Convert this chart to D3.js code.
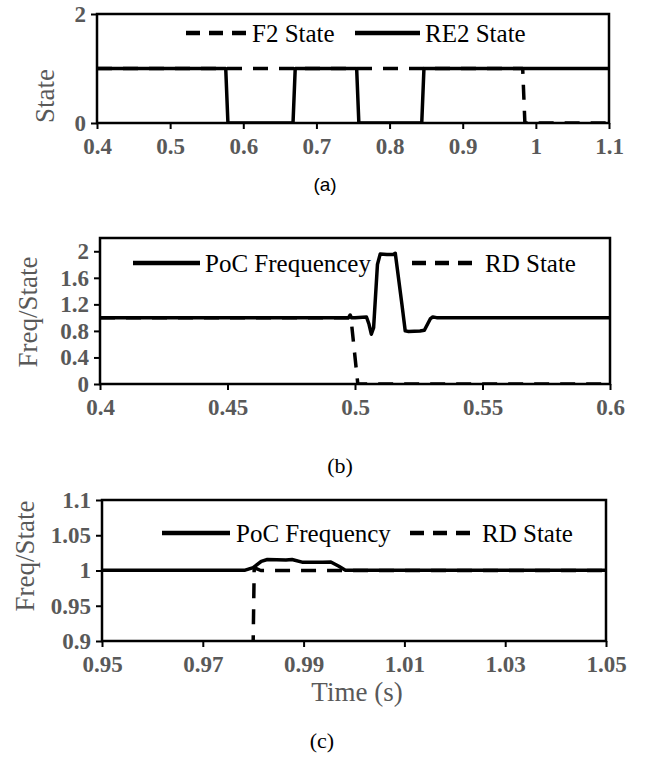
<!DOCTYPE html>
<html>
<head>
<meta charset="utf-8">
<script src="https://cdn.jsdelivr.net/npm/d3@7"></script>
<style>
  body { margin: 0; background: #fff; }
  svg { display: block; }
</style>
</head>
<body>
<div id="chart"></div>
<script>
// Panel (a): F2 / RE2 state
const aXTicks = [0.4, 0.5, 0.6, 0.7, 0.8, 0.9, 1, 1.1];
const aYTicks = [0, 2];
const f2State = [[0.4, 1], [0.982, 1], [0.985, 0], [1.1, 0]];
const re2State = [
    [0.4, 1], [0.576, 1], [0.579, 0], [0.668, 0], [0.671, 1],
    [0.755, 1], [0.758, 0], [0.844, 0], [0.847, 1], [1.1, 1]
];

// Panel (b): PoC frequency / RD state, wide window
const bXTicks = [0.4, 0.45, 0.5, 0.55, 0.6];
const bYTicks = [0, 0.4, 0.8, 1.2, 1.6, 2];
const pocFreqB = [
    [0.4, 1], [0.4975, 1], [0.4981, 1.04], [0.4986, 1.0], [0.5, 1.0],
    [0.5045, 1.01], [0.5055, 0.9], [0.5064, 0.75], [0.5073, 0.85],
    [0.5088, 1.8], [0.5099, 1.96], [0.5125, 1.95], [0.515, 1.95], [0.5158, 1.97],
    [0.5184, 1.2], [0.5197, 0.8], [0.521, 0.79], [0.5255, 0.8], [0.5272, 0.81],
    [0.5295, 0.98], [0.5305, 1.01], [0.532, 1.0], [0.6, 1.0]
];
const rdStateB = [[0.4, 1], [0.4984, 1], [0.5011, 0], [0.6, 0]];

// Panel (c): zoom on the second event
const cXTicks = [0.95, 0.97, 0.99, 1.01, 1.03, 1.05];
const cYTicks = [0.9, 0.95, 1, 1.05, 1.1];
const pocFreqC = [
    [0.95, 1.0005], [0.9784, 1.0005], [0.98, 1.004], [0.9816, 1.013],
    [0.9828, 1.0156], [0.9865, 1.015], [0.9877, 1.0156], [0.9897, 1.0118],
    [0.9938, 1.0118], [0.9954, 1.012], [0.997, 1.006], [0.9983, 1.0005], [1.05, 1.0005]
];
const rdStateC = [[0.9799, 0.85], [0.9802, 1.004], [0.9815, 1.0], [1.05, 1.0]];

const width = 650, height = 762;
const serif = '"Liberation Serif", "Times New Roman", serif';
const gray = '#595959';

const svg = d3.select('#chart').append('svg')
    .attr('width', width)
    .attr('height', height);

svg.append('rect').attr('width', width).attr('height', height).attr('fill', '#fff');

const panels = [
    {
        id: 'a', box: [97, 609, 14, 123], xDomain: [0.4, 1.1], yDomain: [0, 2],
        xTicks: aXTicks, yTicks: aYTicks, yTitle: 'State', yTitlePos: [45, 96],
        series: [
            { data: f2State, dashed: true, name: 'F2 State' },
            { data: re2State, dashed: false, name: 'RE2 State' }
        ],
        legend: { y: 33, items: [[186, 248, 252], [355, 420, 425]] },
        caption: { text: '(a)', x: 325, y: 184, font: '"Liberation Sans", Arial, sans-serif', size: 19 }
    },
    {
        id: 'b', box: [100, 610, 238, 384], xDomain: [0.4, 0.6], yDomain: [0, 2.2],
        xTicks: bXTicks, yTicks: bYTicks, yTitle: 'Freq/State', yTitlePos: [28, 312],
        series: [
            { data: pocFreqB, dashed: false, name: 'PoC Frequencey' },
            { data: rdStateB, dashed: true, name: 'RD State' }
        ],
        legend: { y: 263, items: [[133, 200, 205], [412, 480, 485]] },
        caption: { text: '(b)', x: 340, y: 465, font: serif, size: 22 }
    },
    {
        id: 'c', box: [102, 606, 500, 641], xDomain: [0.95, 1.05], yDomain: [0.9, 1.1],
        xTicks: cXTicks, yTicks: cYTicks, yTitle: 'Freq/State', yTitlePos: [25, 556],
        series: [
            { data: pocFreqC, dashed: false, name: 'PoC Frequency' },
            { data: rdStateC, dashed: true, name: 'RD State' }
        ],
        legend: { y: 533, items: [[162, 230, 236], [410, 476, 482]] },
        caption: { text: '(c)', x: 322, y: 740, font: serif, size: 22 },
        xTitle: { text: 'Time (s)', x: 357, y: 692 }
    }
];

panels.forEach(p => {
    const [x0, x1, y0, y1] = p.box;
    const x = d3.scaleLinear().domain(p.xDomain).range([x0, x1]);
    const y = d3.scaleLinear().domain(p.yDomain).range([y1, y0]);
    const g = svg.append('g').attr('class', 'panel-' + p.id);

    // clip for lines
    svg.append('clipPath').attr('id', 'clip-' + p.id)
        .append('rect').attr('x', x0).attr('y', y0).attr('width', x1 - x0).attr('height', y1 - y0);

    // x axis
    const xAxis = g.append('g')
        .attr('transform', `translate(0,${y1})`)
        .call(d3.axisBottom(x).tickValues(p.xTicks).tickSize(6).tickPadding(9).tickFormat(d => String(d)));
    xAxis.select('.domain').remove();
    xAxis.selectAll('line').attr('stroke', '#000').attr('stroke-width', 2);
    xAxis.selectAll('text')
        .attr('font-family', serif).attr('font-size', 23).attr('font-weight', 'bold').attr('fill', gray);

    // y axis
    const yAxis = g.append('g')
        .attr('transform', `translate(${x0},0)`)
        .call(d3.axisLeft(y).tickValues(p.yTicks).tickSize(6).tickPadding(5).tickFormat(d => String(d)));
    yAxis.select('.domain').remove();
    yAxis.selectAll('line').attr('stroke', '#000').attr('stroke-width', 2);
    yAxis.selectAll('text')
        .attr('font-family', serif).attr('font-size', 23).attr('font-weight', 'bold').attr('fill', gray);

    // data lines
    const line = d3.line().x(d => x(d[0])).y(d => y(d[1]));
    p.series.forEach(s => {
        g.append('path')
            .datum(s.data)
            .attr('clip-path', `url(#clip-${p.id})`)
            .attr('d', line)
            .attr('fill', 'none')
            .attr('stroke', '#000')
            .attr('stroke-width', 3.5)
            .attr('stroke-linejoin', 'round')
            .attr('stroke-dasharray', s.dashed ? '15,11' : null);
    });

    // plot box
    g.append('rect')
        .attr('x', x0).attr('y', y0)
        .attr('width', x1 - x0).attr('height', y1 - y0)
        .attr('fill', 'none').attr('stroke', '#000').attr('stroke-width', 2.5);

    // legend
    p.series.forEach((s, i) => {
        const [lx0, lx1, tx] = p.legend.items[i];
        g.append('line')
            .attr('x1', lx0).attr('x2', lx1)
            .attr('y1', p.legend.y).attr('y2', p.legend.y)
            .attr('stroke', '#000').attr('stroke-width', 4.5)
            .attr('stroke-dasharray', s.dashed ? '14,9' : null);
        g.append('text')
            .attr('x', tx).attr('y', p.legend.y)
            .attr('dy', '0.35em')
            .attr('font-family', serif).attr('font-size', 25)
            .attr('fill', '#000')
            .text(s.name);
    });

    // y title
    g.append('text')
        .attr('transform', `translate(${p.yTitlePos[0]},${p.yTitlePos[1]}) rotate(-90)`)
        .attr('text-anchor', 'middle')
        .attr('dy', '0.35em')
        .attr('font-family', serif).attr('font-size', 27)
        .attr('fill', gray)
        .text(p.yTitle);

    if (p.xTitle) {
        g.append('text')
            .attr('x', p.xTitle.x).attr('y', p.xTitle.y)
            .attr('text-anchor', 'middle').attr('dy', '0.35em')
            .attr('font-family', serif).attr('font-size', 27)
            .attr('fill', gray)
            .text(p.xTitle.text);
    }

    // caption
    g.append('text')
        .attr('x', p.caption.x).attr('y', p.caption.y)
        .attr('text-anchor', 'middle').attr('dy', '0.35em')
        .attr('font-family', p.caption.font).attr('font-size', p.caption.size)
        .attr('fill', '#000')
        .text(p.caption.text);
});
</script>
</body>
</html>
